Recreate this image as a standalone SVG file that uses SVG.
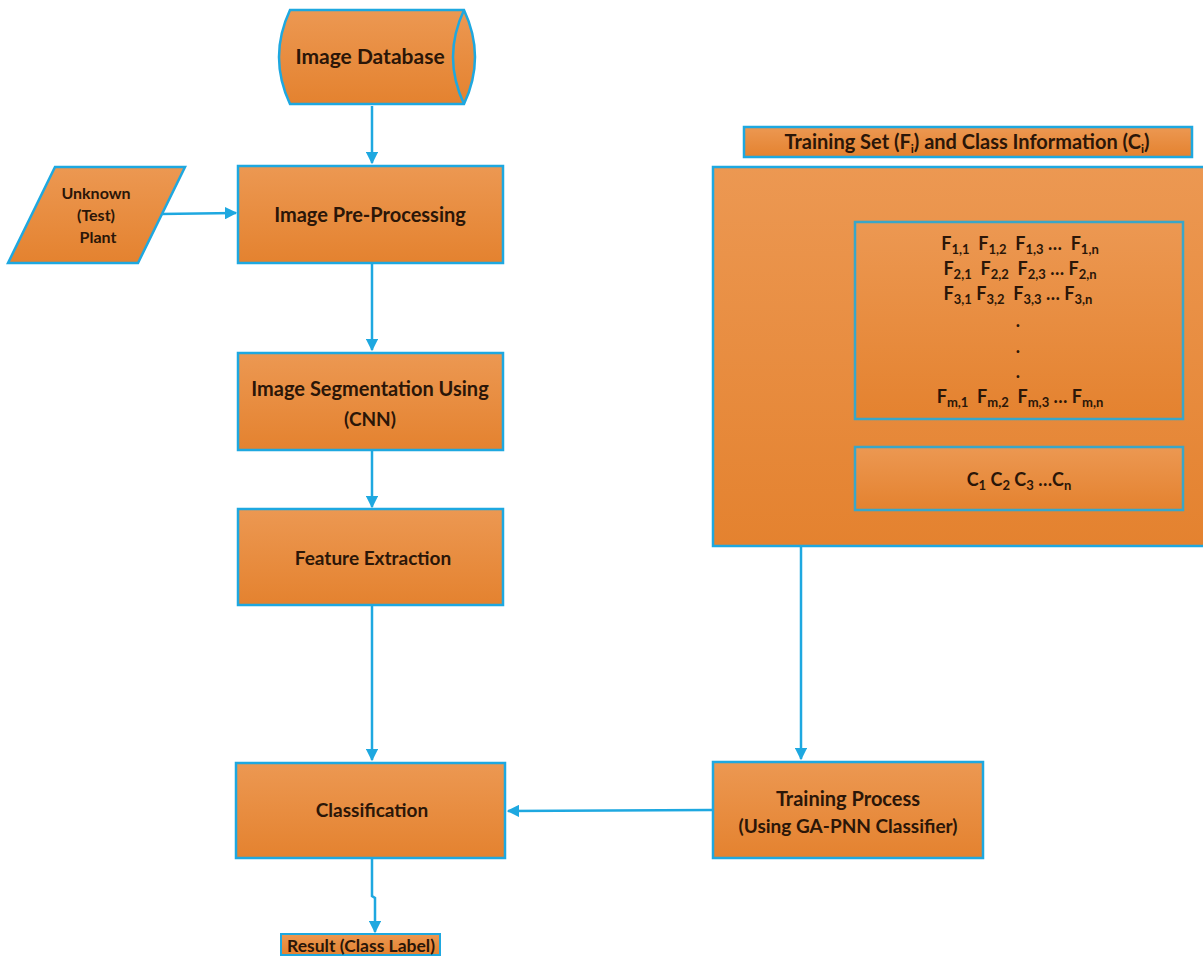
<svg xmlns="http://www.w3.org/2000/svg" width="1203" height="956" viewBox="0 0 1203 956">
<defs>
<linearGradient id="og" x1="0" y1="0" x2="0" y2="1">
<stop offset="0" stop-color="#EC9852"/>
<stop offset="1" stop-color="#E4822F"/>
</linearGradient>
<marker id="ah" viewBox="0 0 10 10" refX="9" refY="5" markerWidth="5" markerHeight="5" orient="auto" markerUnits="strokeWidth">
<path d="M0,0 L10,5 L0,10 z" fill="#1EA8E0"/>
</marker>
<style>
.n{fill:url(#og);stroke:#1EA8E0;stroke-width:2.5}
.in{fill:url(#og);stroke:#3AA6C8;stroke-width:2.5}
.t{font-family:Lato,"Open Sans","Liberation Sans",sans-serif;font-weight:bold;font-size:19px;fill:#2B1608;text-anchor:middle}
.m{font-family:Lato,"Open Sans","Liberation Sans",sans-serif;font-weight:bold;font-size:18px;fill:#2B1608;text-anchor:middle;white-space:pre}
.s{font-size:13px;baseline-shift:-4px}
.c{fill:none;stroke:#1EA8E0;stroke-width:2.5}
</style>
</defs>
<rect width="1203" height="956" fill="#FFFFFF"/>

<g id="connectors">
<path class="c" d="M372,106 V163" marker-end="url(#ah)"/>
<path class="c" d="M160,214 L236,213" marker-end="url(#ah)"/>
<path class="c" d="M372,264 V350" marker-end="url(#ah)"/>
<path class="c" d="M372,451 V507" marker-end="url(#ah)"/>
<path class="c" d="M372,606 V760" marker-end="url(#ah)"/>
<path class="c" d="M801,547 V759" marker-end="url(#ah)"/>
<path class="c" d="M712,810 L508,811" marker-end="url(#ah)"/>
<path class="c" d="M372,859 V896 L375,898 V932" marker-end="url(#ah)"/>
</g>

<g id="image-database">
<path class="n" d="M290,10 H464 Q486,57 464,104 H290 Q268,57 290,10 Z"/>
<path class="n" d="M464,10 Q442,57 464,104"/>
<text class="t" x="370" y="64" style="font-size:21px">Image Database</text>
</g>

<g id="unknown-plant">
<polygon class="n" points="55,167 185,167 138,263 8,263"/>
<text class="t" x="96" y="199" style="font-size:16px">Unknown</text>
<text class="t" x="96" y="221" style="font-size:16px">(Test)</text>
<text class="t" x="98" y="243" style="font-size:16px">Plant</text>
</g>

<g id="pre-processing">
<rect class="n" x="238" y="166" width="265" height="97"/>
<text class="t" x="370" y="222" style="font-size:20px">Image Pre-Processing</text>
</g>

<g id="segmentation">
<rect class="n" x="238" y="353" width="265" height="97"/>
<text class="t" x="370" y="396" style="font-size:20px">Image Segmentation Using</text>
<text class="t" x="370" y="426">(CNN)</text>
</g>

<g id="feature-extraction">
<rect class="n" x="238" y="509" width="265" height="96"/>
<text class="t" x="373" y="565">Feature Extraction</text>
</g>

<g id="classification">
<rect class="n" x="236" y="763" width="269" height="95"/>
<text class="t" x="372" y="817">Classification</text>
</g>

<g id="result">
<rect class="n" x="281" y="934" width="159" height="21" style="stroke-width:2"/>
<text class="t" x="361" y="952" style="font-size:17.5px">Result (Class Label)</text>
</g>

<g id="training-set-header">
<rect class="n" x="744" y="127" width="448" height="30"/>
<text class="t" x="967" y="149" style="font-size:20px">Training Set (F<tspan class="s" style="font-size:12px">i</tspan>) and Class Information (C<tspan class="s" style="font-size:12px">i</tspan>)</text>
</g>

<g id="training-set">
<rect class="n" x="713" y="167" width="492" height="379"/>
<rect class="in" x="855" y="222" width="328" height="197"/>
<text class="m" x="1020" y="250">F<tspan class="s">1,1</tspan>  F<tspan class="s">1,2</tspan>  F<tspan class="s">1,3</tspan> …  F<tspan class="s">1,n</tspan></text>
<text class="m" x="1020" y="275">F<tspan class="s">2,1</tspan>  F<tspan class="s">2,2</tspan>  F<tspan class="s">2,3</tspan> … F<tspan class="s">2,n</tspan></text>
<text class="m" x="1018" y="300">F<tspan class="s">3,1</tspan> F<tspan class="s">3,2</tspan>  F<tspan class="s">3,3</tspan> … F<tspan class="s">3,n</tspan></text>
<text class="m" x="1018" y="327">.</text>
<text class="m" x="1018" y="353">.</text>
<text class="m" x="1018" y="378">.</text>
<text class="m" x="1020" y="403">F<tspan class="s">m,1</tspan>  F<tspan class="s">m,2</tspan>  F<tspan class="s">m,3</tspan> … F<tspan class="s">m,n</tspan></text>
<rect class="in" x="855" y="447" width="328" height="63"/>
<text class="m" x="1019" y="486">C<tspan class="s">1</tspan> C<tspan class="s">2</tspan> C<tspan class="s">3</tspan> …C<tspan class="s">n</tspan></text>
</g>

<g id="training-process">
<rect class="n" x="713" y="762" width="270" height="96"/>
<text class="t" x="848" y="806" style="font-size:20px">Training Process</text>
<text class="t" x="848" y="833">(Using GA-PNN Classifier)</text>
</g>
</svg>
